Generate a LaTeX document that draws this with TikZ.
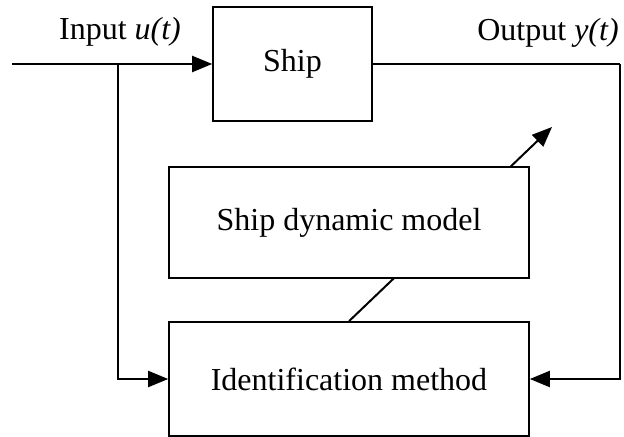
\documentclass[tikz,border=0pt]{standalone}
\usepackage{fontspec}
\setmainfont{Liberation Serif}
\usetikzlibrary{arrows.meta}

\begin{document}
\begin{tikzpicture}[
  x=0.5pt, y=-0.5pt,  block/.style={rectangle,draw,line width=0.8pt,inner sep=0pt,minimum width=180pt,minimum height=57pt,font=\fontsize{16}{19}\selectfont},  sig/.style={line width=1pt,-{Triangle[length=10pt,width=8pt]}},  lbl/.style={font=\fontsize{16}{19}\selectfont}
]
  \useasboundingbox (0,0) rectangle (624,437);
  \node[block,minimum width=79.5pt] (ship) at (292.5,64) {Ship};
  \node[block] (ident) at (349,379) {Identification method};
  \coordinate (in) at (12,64);
  \coordinate (branch) at (118,64);
  \coordinate (out) at (620,64);
  \coordinate (tune) at (552,127);
  \node[lbl] (ulbl) at (120,32) {Input \textit{u(t)}};
  \node[lbl] (ylbl) at (548,33) {Output \textit{y(t)}};
  \draw[sig] (in) -- (ship.west);
  \draw[sig] (branch) |- (ident.west);
  \draw[line width=1pt] (ship.east) -- (out);
  \draw[sig] (out) |- (ident.east);
  \draw[sig] (ident.north) -- (tune);
  \node[block,fill=white,minimum height=55.5pt] (model) at (349,222.5) {Ship dynamic model};
\end{tikzpicture}
\end{document}
